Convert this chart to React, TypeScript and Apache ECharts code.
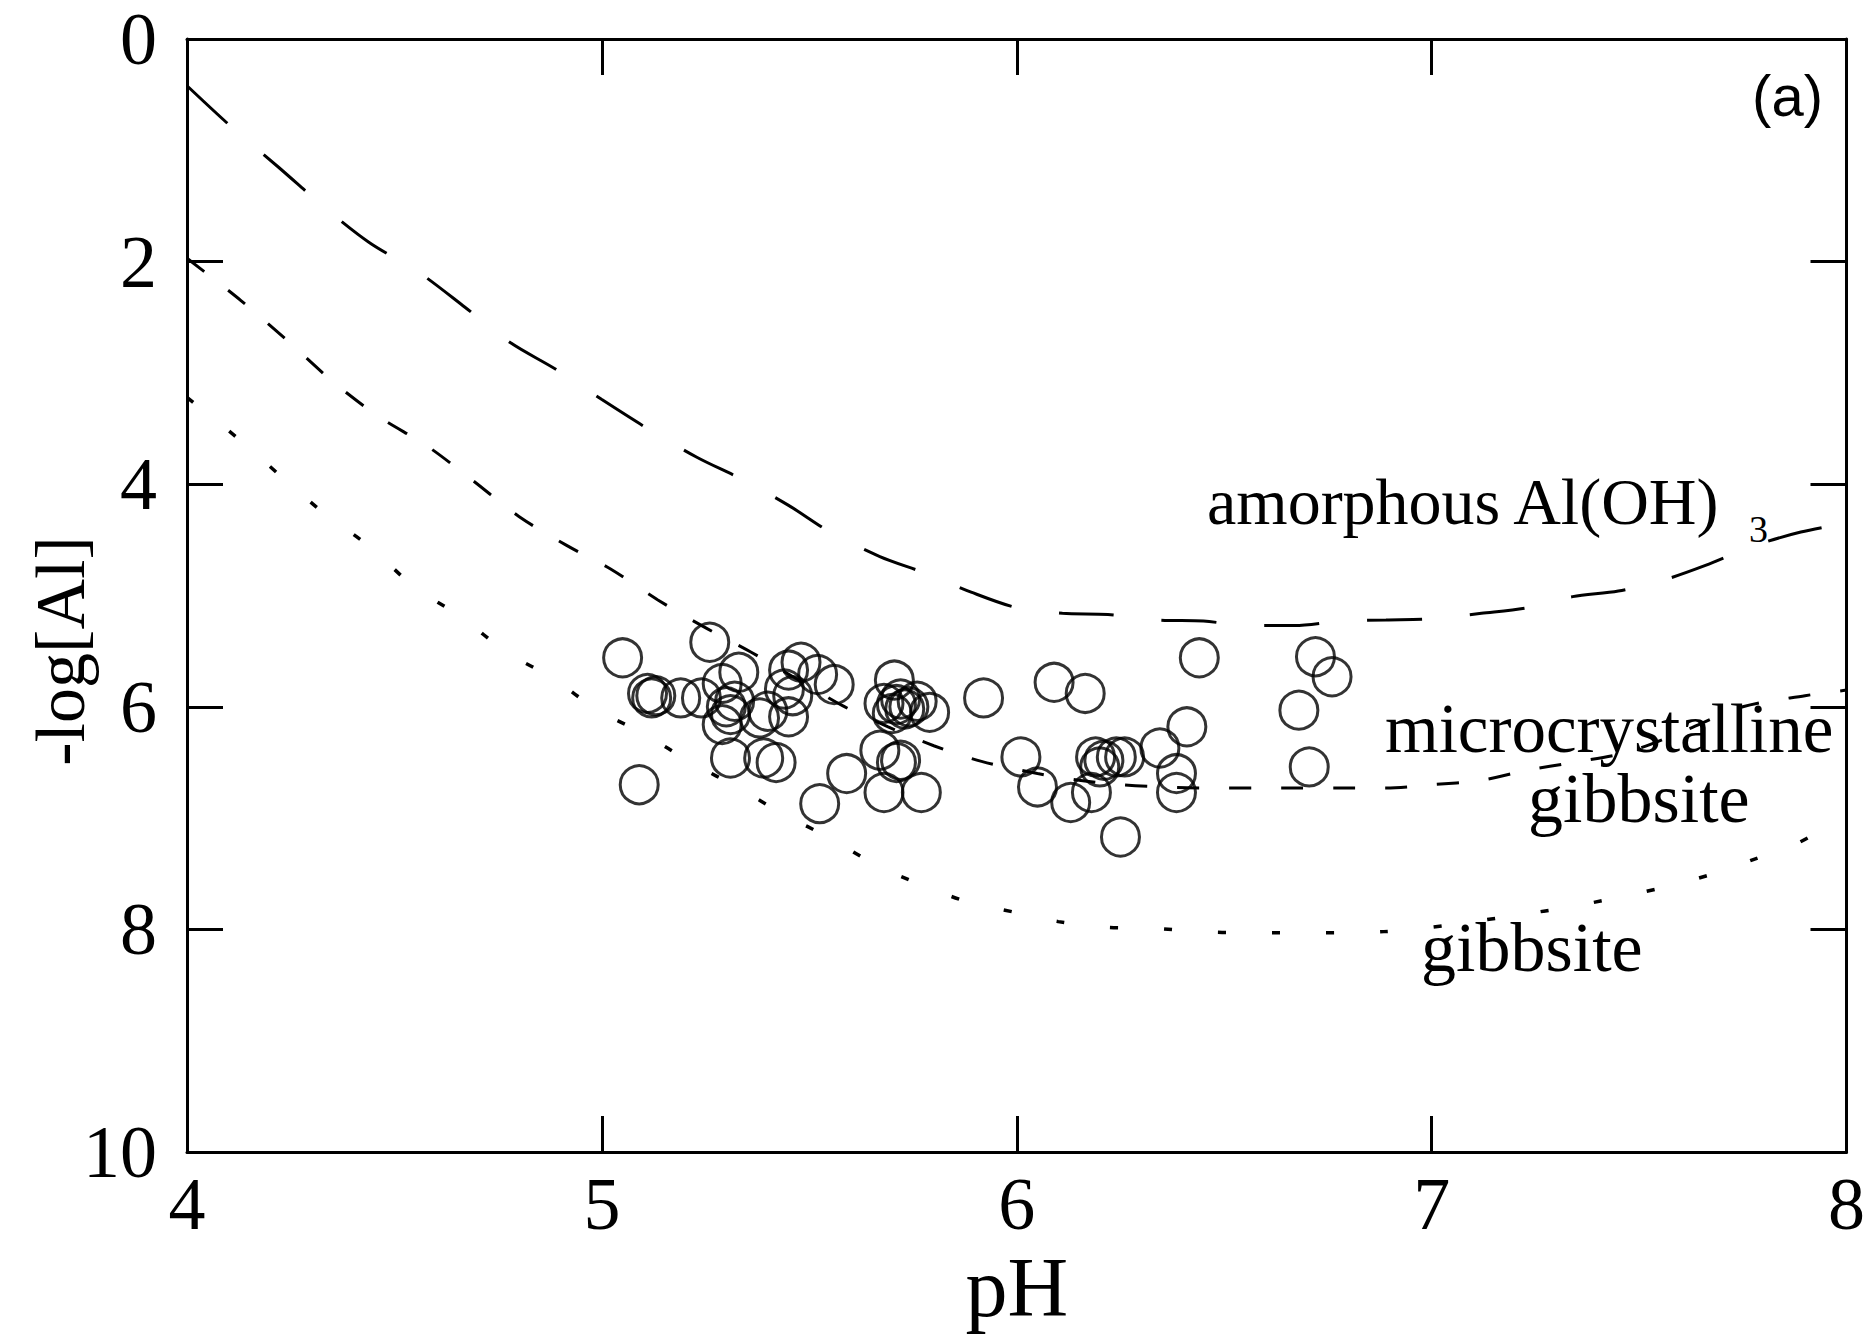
import React, { useEffect, useRef } from "react";
import * as echarts from "echarts";

// ---- data ----
const amorphousX = [4.0, 4.11, 4.22, 4.34, 4.44, 4.56, 4.67, 4.78, 4.89, 5.0, 5.11, 5.23, 5.34, 5.45, 5.55, 5.67, 5.78, 5.89, 6.0, 6.11, 6.22, 6.34, 6.45, 6.56, 6.67, 6.78, 6.89, 7.0, 7.12, 7.23, 7.34, 7.45, 7.56, 7.66, 7.78, 7.89, 8.0];
const amorphousY = [0.42, 0.8, 1.15, 1.54, 1.83, 2.1, 2.41, 2.73, 2.97, 3.24, 3.5, 3.76, 3.96, 4.19, 4.43, 4.65, 4.8, 4.97, 5.11, 5.16, 5.17, 5.22, 5.23, 5.27, 5.27, 5.23, 5.22, 5.21, 5.16, 5.11, 5.01, 4.96, 4.86, 4.73, 4.55, 4.43, 4.35];

const microX = [4.0, 4.13, 4.245, 4.355, 4.465, 4.58, 4.69, 4.8, 4.915, 5.02, 5.135, 5.245, 5.36, 5.47, 5.58, 5.69, 5.8, 5.915, 6.05, 6.15, 6.25, 6.35, 6.47, 6.57, 6.67, 6.78, 6.89, 7.0, 7.12, 7.23, 7.34, 7.47, 7.6, 7.75, 7.9, 8.0];
const microY = [1.97, 2.35, 2.72, 3.09, 3.4, 3.66, 3.97, 4.29, 4.55, 4.76, 5.04, 5.28, 5.51, 5.75, 5.99, 6.18, 6.35, 6.49, 6.6, 6.66, 6.7, 6.72, 6.73, 6.73, 6.73, 6.73, 6.73, 6.7, 6.66, 6.57, 6.5, 6.41, 6.23, 6.0, 5.9, 5.85];

const gibbsiteX = [4.0, 4.12, 4.23, 4.33, 4.44, 4.55, 4.66, 4.77, 4.88, 4.99, 5.1, 5.22, 5.33, 5.44, 5.55, 5.66, 5.77, 5.88, 6.0, 6.1, 6.21, 6.33, 6.44, 6.55, 6.66, 6.77, 6.885, 7.0, 7.1, 7.21, 7.33, 7.44, 7.55, 7.67, 7.77, 7.885, 8.0];
const gibbsiteY = [3.22, 3.58, 3.94, 4.26, 4.56, 4.93, 5.19, 5.51, 5.74, 6.03, 6.24, 6.51, 6.73, 6.97, 7.18, 7.42, 7.6, 7.75, 7.85, 7.93, 7.98, 7.99, 8.02, 8.03, 8.03, 8.03, 8.02, 7.98, 7.93, 7.87, 7.8, 7.72, 7.63, 7.51, 7.38, 7.22, 6.97];

const sampleX = [5.05, 5.26, 5.11, 5.12, 5.13, 5.19, 5.24, 5.29, 5.33, 5.3, 5.32, 5.29, 5.31, 5.31, 5.38, 5.4, 5.45, 5.39, 5.42, 5.45, 5.48, 5.52, 5.56, 5.44, 5.46, 5.705, 5.68, 5.71, 5.72, 5.74, 5.73, 5.79, 5.7, 5.76, 5.67, 5.71, 5.72, 5.68, 5.77, 5.59, 5.525, 5.09, 5.92, 6.09, 6.165, 6.44, 6.72, 6.76, 6.68, 6.705, 6.01, 6.05, 6.13, 6.18, 6.19, 6.21, 6.24, 6.26, 6.2, 6.345, 6.41, 6.385, 6.385, 6.25];
const sampleY = [5.56, 5.42, 5.88, 5.92, 5.9, 5.92, 5.92, 5.79, 5.69, 6.0, 5.95, 6.16, 6.07, 6.46, 6.1, 6.04, 6.09, 6.46, 6.5, 5.67, 5.6, 5.71, 5.8, 5.84, 5.9, 5.76, 5.97, 5.98, 5.93, 6.0, 6.02, 6.05, 6.06, 5.95, 6.39, 6.5, 6.48, 6.77, 6.77, 6.6, 6.87, 6.7, 5.92, 5.78, 5.88, 5.56, 5.55, 5.73, 6.03, 6.54, 6.45, 6.72, 6.86, 6.77, 6.45, 6.48, 6.45, 6.45, 6.54, 6.37, 6.18, 6.6, 6.77, 7.17];

const xTicks = { min: 4, max: 8, interval: 1 };
const yTicks = { min: 0, max: 10, interval: 2 };

const zip = (xs: number[], ys: number[]) => xs.map((x, i) => [x, ys[i]]);

const SERIF = "'Liberation Serif', 'Times New Roman', serif";
const SANS = "'Liberation Sans', Arial, sans-serif";

export default function App() {
  const ref = useRef<HTMLDivElement>(null);
  useEffect(() => {
    if (!ref.current) return;
    const chart = echarts.init(ref.current, undefined, { renderer: "svg" });
    const axisLine = { show: true, onZero: false, lineStyle: { color: "#000", width: 3 } };
    const axisTick = { show: true, inside: true, length: 36, lineStyle: { color: "#000", width: 3 } };
    chart.setOption({
      animation: false,
      backgroundColor: "#fff",
      grid: { left: 187, right: 16, top: 39, bottom: 191, containLabel: false },
      xAxis: [
        {
          type: "value", position: "bottom", ...xTicks,
          axisLine, axisTick, splitLine: { show: false },
          axisLabel: { fontSize: 74, lineHeight: 60, fontFamily: SERIF, color: "#000", margin: 22 },
          name: "pH", nameLocation: "middle", nameGap: 86,
          nameTextStyle: { fontSize: 84, fontFamily: SERIF, color: "#000" },
        },
        {
          type: "value", position: "top", ...xTicks,
          axisLine, axisTick, splitLine: { show: false }, axisLabel: { show: false },
        },
      ],
      yAxis: [
        {
          type: "value", position: "left", inverse: true, ...yTicks,
          axisLine, axisTick, splitLine: { show: false },
          axisLabel: { fontSize: 74, lineHeight: 60, fontFamily: SERIF, color: "#000", margin: 30 },
        },
        {
          type: "value", position: "right", inverse: true, ...yTicks,
          axisLine, axisTick, splitLine: { show: false }, axisLabel: { show: false },
        },
      ],
      graphic: [
        { type: "text", x: 60, y: 651, rotation: Math.PI / 2, style: { text: "-log[Al]", font: `70px ${SERIF}`, fill: "#000", align: "center", verticalAlign: "middle" } },
        { type: "text", x: 1823, y: 95, style: { text: "(a)", font: `58px ${SANS}`, fill: "#000", align: "right", verticalAlign: "middle" } },
        { type: "text", x: 1207, y: 501, style: { text: "amorphous Al(OH)", font: `66px ${SERIF}`, fill: "#000", align: "left", verticalAlign: "middle" } },
        { type: "text", x: 1749, y: 529, style: { text: "3", font: `38px ${SERIF}`, fill: "#000", align: "left", verticalAlign: "middle" } },
        { type: "text", x: 1385, y: 729, style: { text: "microcrystalline", font: `69px ${SERIF}`, fill: "#000", align: "left", verticalAlign: "middle" } },
        { type: "text", x: 1528, y: 798, style: { text: "gibbsite", font: `70px ${SERIF}`, fill: "#000", align: "left", verticalAlign: "middle" } },
        { type: "text", x: 1421, y: 947, style: { text: "gibbsite", font: `70px ${SERIF}`, fill: "#000", align: "left", verticalAlign: "middle" } },
      ],
      series: [
        {
          name: "amorphous Al(OH)3", type: "line", data: zip(amorphousX, amorphousY),
          showSymbol: false, smooth: 0.3, lineStyle: { color: "#000", width: 3, type: [55, 48] },
        },
        {
          name: "microcrystalline gibbsite", type: "line", data: zip(microX, microY),
          showSymbol: false, smooth: 0.3, lineStyle: { color: "#000", width: 3, type: [22, 30] },
        },
        {
          name: "gibbsite", type: "line", data: zip(gibbsiteX, gibbsiteY),
          showSymbol: false, smooth: 0.3, lineStyle: { color: "#000", width: 3.5, type: [8, 46] },
        },
        {
          name: "samples", type: "scatter", data: zip(sampleX, sampleY),
          symbol: "circle", symbolSize: 38,
          itemStyle: { color: "rgba(0,0,0,0)", borderColor: "#000", borderWidth: 3 },
        },
      ],
    });
    return () => chart.dispose();
  }, []);
  return <div ref={ref} style={{ position: "absolute", left: 0, top: 0, width: 1868, height: 1343 }} />;
}
